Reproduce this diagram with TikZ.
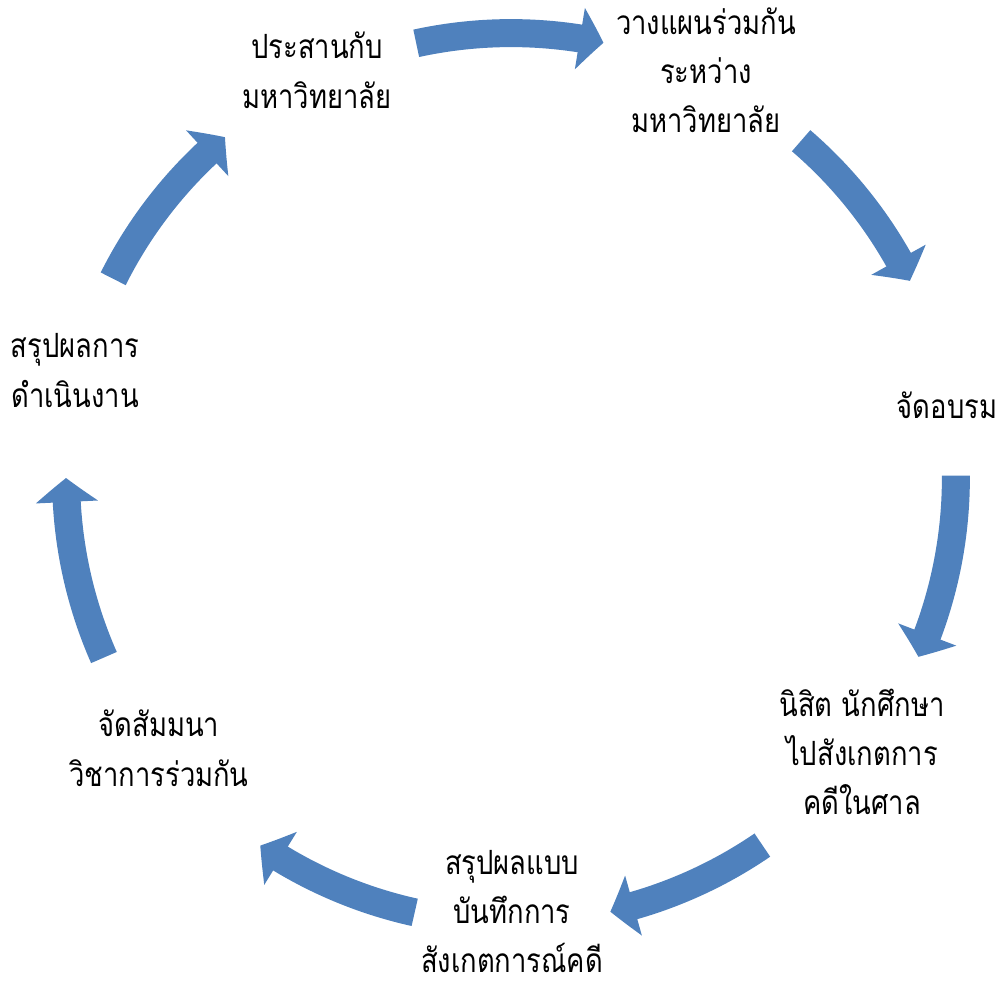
\documentclass[tikz,border=0pt]{standalone}
\usepackage{fontspec}
\newfontfamily\thai[Script=Thai,FakeStretch=0.82]{Loma}
\usetikzlibrary{arrows.meta,bending}
\definecolor{cycblue}{RGB}{79,129,189}
\newlength{\tbs}
\setlength{\tbs}{0.95cm}
\newcommand{\ts}{\rule[-0.3\tbs]{0pt}{\tbs}}
\newcommand{\tsl}{\rule{0pt}{0.7\tbs}}
\begin{document}
\begin{tikzpicture}[x=0.02cm,y=0.02cm,
  lbl/.style={align=center,inner sep=0pt,font=\fontsize{19}{27}\selectfont\thai},
  cyc/.style={draw=cycblue,line width=0.56cm,
    -{Triangle[width=1.22cm,length=0.48cm,bend]},fill=none}]
\useasboundingbox (0,0) rectangle (1002,-986);
\coordinate (c) at (511,-478);
% labels
\node[lbl] (n1) at (317,-74) {\ts ประสานกับ\\\ts มหาวิทยาลัย};
\node[lbl] (n2) at (706,-74) {\ts วางแผนร่วมกัน\\\ts ระหว่าง\\\ts มหาวิทยาลัย};
\node[lbl] (n3) at (947,-409) {\ts จัดอบรม};
\node[lbl] (n4) at (862,-756) {\ts นิสิต นักศึกษา\\\ts ไปสังเกตการ\\\ts คดีในศาล};
\node[lbl] (n5) at (512,-907) {\ts สรุปผลแบบ\\\ts บันทึกการ\\\tsl สังเกตการณ์คดี};
\node[lbl] (n6) at (159,-752) {\ts จัดสัมมนา\\\ts วิชาการร่วมกัน};
\node[lbl] (n7) at (75,-373) {\ts สรุปผลการ\\\ts ดำเนินงาน};
% arrows (arcs of the cycle circle)
\draw[cyc] ([shift={(102.3:8.9cm)}]c) arc[start angle=102.3,end angle=78,radius=8.9cm];
\draw[cyc] ([shift={(49.3:8.9cm)}]c) arc[start angle=49.3,end angle=26.3,radius=8.9cm];
\draw[cyc] ([shift={(0.3:8.9cm)}]c) arc[start angle=0.3,end angle=-23.7,radius=8.9cm];
\draw[cyc] ([shift={(-55.6:8.9cm)}]c) arc[start angle=-55.6,end angle=-77.1,radius=8.9cm];
\draw[cyc] ([shift={(-102.5:8.9cm)}]c) arc[start angle=-102.5,end angle=-124.3,radius=8.9cm];
\draw[cyc] ([shift={(-156.2:8.9cm)}]c) arc[start angle=-156.2,end angle=-180,radius=8.9cm];
\draw[cyc] ([shift={(153.4:8.9cm)}]c) arc[start angle=153.4,end angle=130,radius=8.9cm];
\end{tikzpicture}
\end{document}
